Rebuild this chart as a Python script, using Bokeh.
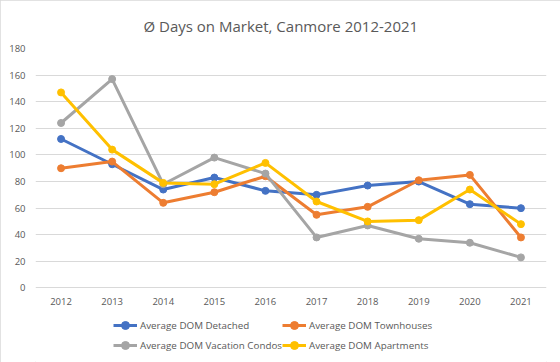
from bokeh.plotting import figure
from bokeh.models import Legend, LegendItem, FactorRange, Title
from bokeh.embed import file_html
from bokeh.resources import INLINE

years = ["2012", "2013", "2014", "2015", "2016", "2017", "2018", "2019", "2020", "2021"]
detached = [112, 93, 74, 83, 73, 70, 77, 80, 63, 60]
townhouses = [90, 95, 64, 72, 84, 55, 61, 81, 85, 38]
vacation_condos = [124, 157, 78, 98, 86, 38, 47, 37, 34, 23]
apartments = [147, 104, 79, 78, 94, 65, 50, 51, 74, 48]
y_ticks = [0, 20, 40, 60, 80, 100, 120, 140, 160, 180]

series = [
    ("Average DOM Detached", detached, "#4472C4"),
    ("Average DOM Townhouses", townhouses, "#ED7D31"),
    ("Average DOM Vacation Condos", vacation_condos, "#A5A5A5"),
    ("Average DOM Apartments", apartments, "#FFC000"),
]

TEXT = "#595959"
FONT = "Open Sans"

p = figure(width=560, height=362, x_range=FactorRange(*years), y_range=(-56, 180),
           output_backend="svg", toolbar_location=None,
           min_border_left=35, min_border_right=14, min_border_top=45, min_border_bottom=0)
p.title = Title(text="Ø Days on Market, Canmore 2012-2021", align="left",
                text_font=FONT, text_font_size="15px", text_font_style="normal",
                text_color=TEXT, standoff=26, offset=108)
p.outline_line_color = None
p.background_fill_color = "white"
p.border_fill_color = "white"
p.styles = {"outline": "1px solid #d9d9d9", "outline-offset": "-1px"}

p.xgrid.grid_line_color = None
p.ygrid.grid_line_color = "#d9d9d9"
p.ygrid.grid_line_width = 1
p.yaxis.ticker = y_ticks
for ax in (p.xaxis, p.yaxis):
    ax.axis_line_color = None
    ax.major_tick_line_color = None
    ax.minor_tick_line_color = None
    ax.major_label_text_font = FONT
    ax.major_label_text_font_size = "9.5px"
    ax.major_label_text_color = TEXT
p.yaxis.major_tick_out = 0
p.yaxis.major_label_standoff = 10
p.xaxis.major_label_standoff = 4
p.xaxis.fixed_location = 0
p.x_range.range_padding = 0
p.x_range.group_padding = 0

renderers = {}
for name, vals, color in series:
    l = p.line(years, vals, line_color=color, line_width=3, line_join="round")
    s = p.scatter(years, vals, size=7, fill_color=color, line_color=color)
    renderers[name] = [l, s]

order = ["Average DOM Detached", "Average DOM Vacation Condos",
         "Average DOM Townhouses", "Average DOM Apartments"]
items = [LegendItem(label=n, renderers=renderers[n]) for n in order]
legend = Legend(items=items, ncols=2, location=(78, 7),
                label_text_font=FONT, label_text_font_size="9.8px", label_text_color=TEXT,
                glyph_width=24, glyph_height=20, label_height=20, label_standoff=3,
                spacing=0, padding=0, margin=0, border_line_color=None,
                background_fill_alpha=0)
p.add_layout(legend, "center")

open("out.html", "w").write(file_html(p, INLINE))
